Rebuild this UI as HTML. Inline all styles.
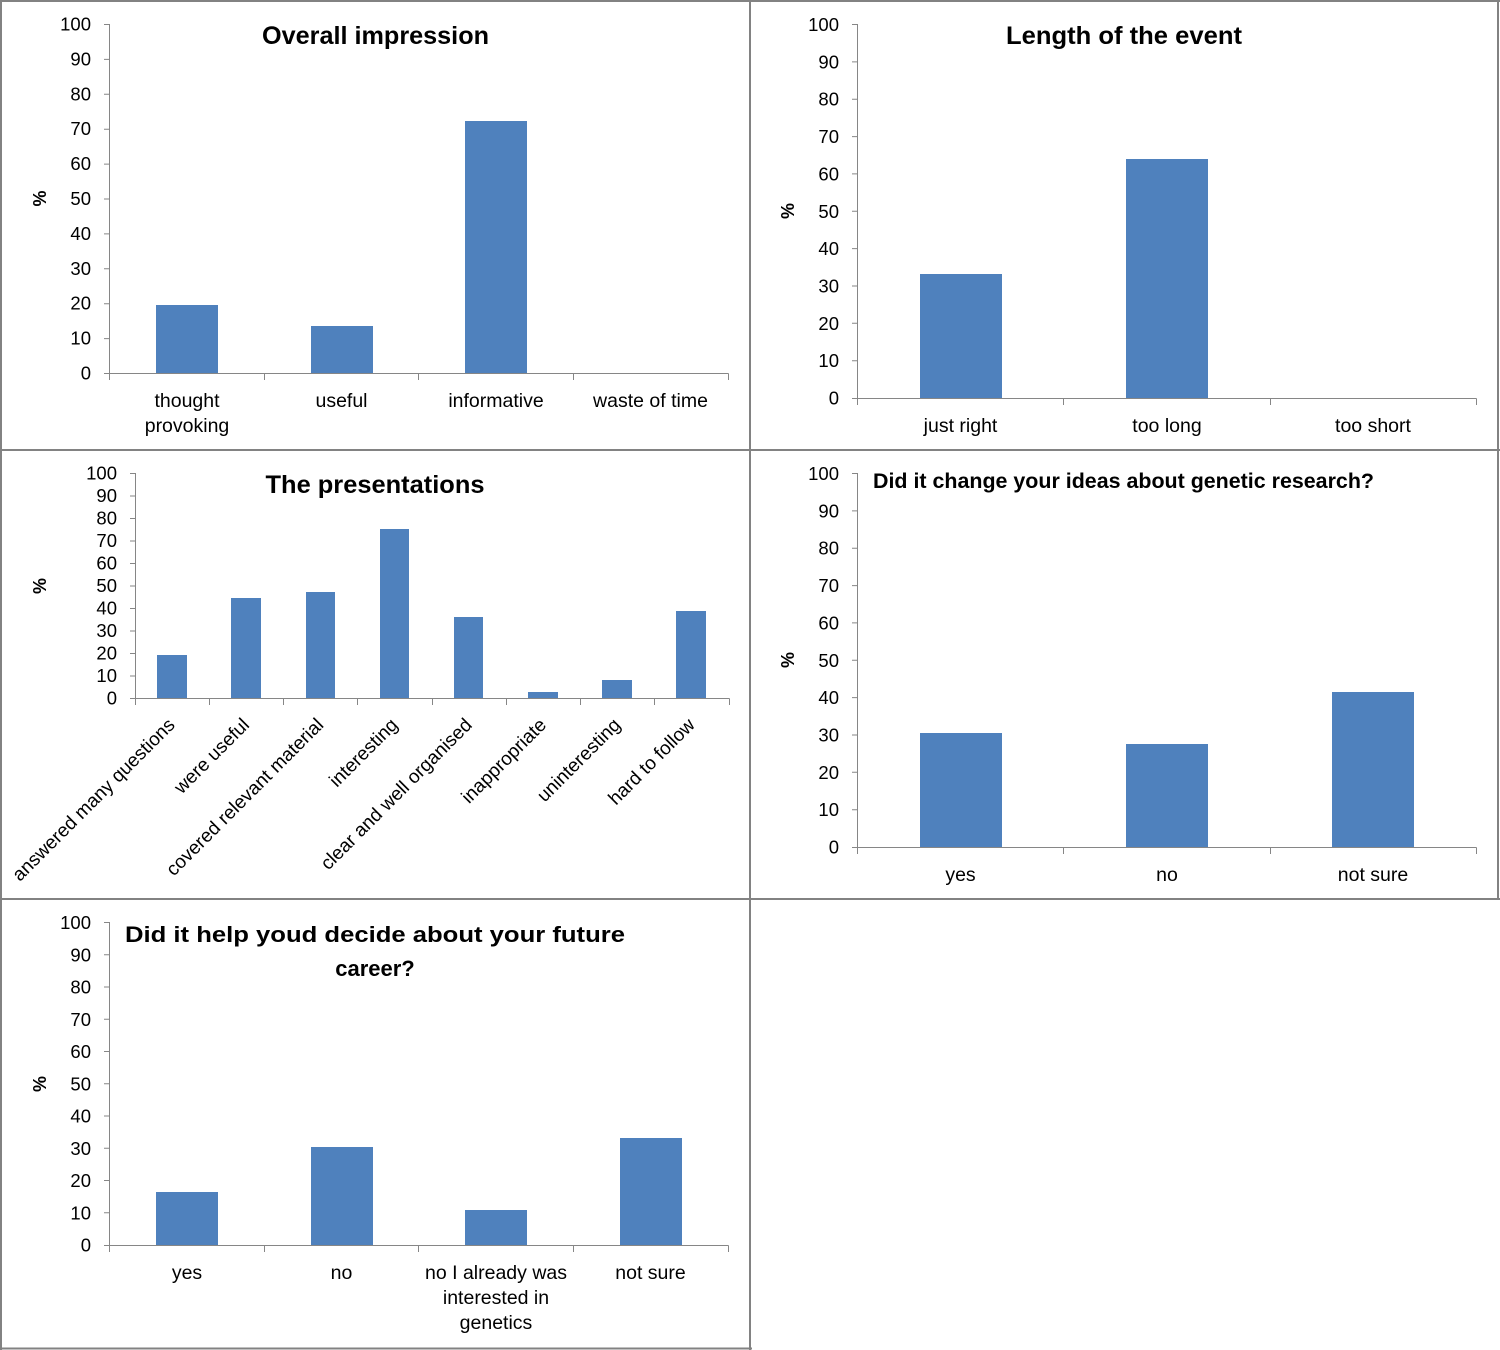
<!DOCTYPE html>
<html><head><meta charset="utf-8"><style>
html,body{margin:0;padding:0;background:#fff;}
svg{display:block;}
text{font-family:"Liberation Sans",Arial,sans-serif;fill:#000;}
.t{font-size:18.5px;text-anchor:end;}
.c{font-size:19.5px;text-anchor:middle;}
.r{font-size:19px;text-anchor:end;}
.h{font-size:25px;font-weight:bold;text-anchor:middle;}
.p{font-size:18px;font-weight:bold;text-anchor:middle;}
.ax{stroke:#868686;stroke-width:1;fill:none;}
.b{fill:#4F81BD;}
.bd{stroke:#828282;stroke-width:2;}
</style></head><body>
<svg width="1500" height="1350" viewBox="0 0 1500 1350" xmlns="http://www.w3.org/2000/svg">
<rect width="1500" height="1350" fill="#fff"/>

<!-- ===== Panel 1: Overall impression ===== -->
<text class="h" x="375.5" y="44" textLength="227" lengthAdjust="spacingAndGlyphs">Overall impression</text>
<text class="p" transform="translate(46,198.5) rotate(-90)">%</text>
<g class="t">
<text x="91" y="379.5">0</text><text x="91" y="344.6">10</text><text x="91" y="309.7">20</text><text x="91" y="274.8">30</text><text x="91" y="239.9">40</text><text x="91" y="205">50</text><text x="91" y="170.1">60</text><text x="91" y="135.2">70</text><text x="91" y="100.3">80</text><text x="91" y="65.4">90</text><text x="91" y="30.5">100</text>
</g>
<rect class="b" x="156" y="305" width="62" height="68"/>
<rect class="b" x="311" y="326" width="62" height="47"/>
<rect class="b" x="465" y="121" width="62" height="252"/>
<path class="ax" d="M109.5 24V373.5M104 24.5H109.5M104 59.4H109.5M104 94.3H109.5M104 129.2H109.5M104 164.1H109.5M104 199H109.5M104 233.9H109.5M104 268.8H109.5M104 303.7H109.5M104 338.6H109.5M104 373.5H109.5"/>
<path class="ax" d="M109.5 373.5H728.5M109.5 373.5V380M264.5 373.5V380M418.5 373.5V380M573.5 373.5V380M728.5 373.5V380"/>
<text class="c" x="187" y="407">thought</text><text class="c" x="187" y="432">provoking</text>
<text class="c" x="341.5" y="407">useful</text>
<text class="c" x="496" y="407">informative</text>
<text class="c" x="650.5" y="407">waste of time</text>

<!-- ===== Panel 2: Length of the event ===== -->
<text class="h" x="1124" y="44" textLength="236" lengthAdjust="spacingAndGlyphs">Length of the event</text>
<text class="p" transform="translate(794,211) rotate(-90)">%</text>
<g class="t">
<text x="839" y="404.5">0</text><text x="839" y="367.2">10</text><text x="839" y="329.8">20</text><text x="839" y="292.5">30</text><text x="839" y="255.1">40</text><text x="839" y="217.8">50</text><text x="839" y="180.4">60</text><text x="839" y="143.1">70</text><text x="839" y="105.7">80</text><text x="839" y="68.4">90</text><text x="839" y="31">100</text>
</g>
<rect class="b" x="920" y="274" width="82" height="124"/>
<rect class="b" x="1126" y="159" width="82" height="239"/>
<path class="ax" d="M857.5 24V398.5M852 24.5H857.5M852 61.9H857.5M852 99.2H857.5M852 136.6H857.5M852 173.9H857.5M852 211.3H857.5M852 248.6H857.5M852 286H857.5M852 323.3H857.5M852 360.7H857.5M852 398.5H857.5"/>
<path class="ax" d="M857.5 398.5H1476.5M857.5 398.5V405M1063.5 398.5V405M1270.5 398.5V405M1476.5 398.5V405"/>
<text class="c" x="960.5" y="432">just right</text>
<text class="c" x="1167" y="432">too long</text>
<text class="c" x="1373" y="432">too short</text>

<!-- ===== Panel 3: The presentations ===== -->
<text class="h" x="375" y="493" textLength="219" lengthAdjust="spacingAndGlyphs">The presentations</text>
<text class="p" transform="translate(46,586) rotate(-90)">%</text>
<g class="t">
<text x="117" y="704.5">0</text><text x="117" y="682">10</text><text x="117" y="659.5">20</text><text x="117" y="637">30</text><text x="117" y="614.5">40</text><text x="117" y="592">50</text><text x="117" y="569.5">60</text><text x="117" y="547">70</text><text x="117" y="524.5">80</text><text x="117" y="502">90</text><text x="117" y="479.5">100</text>
</g>
<rect class="b" x="157" y="655" width="30" height="43"/>
<rect class="b" x="231" y="598" width="30" height="100"/>
<rect class="b" x="306" y="592" width="29" height="106"/>
<rect class="b" x="380" y="529" width="29" height="169"/>
<rect class="b" x="454" y="617" width="29" height="81"/>
<rect class="b" x="528" y="692" width="30" height="6"/>
<rect class="b" x="602" y="680" width="30" height="18"/>
<rect class="b" x="676" y="611" width="30" height="87"/>
<path class="ax" d="M135.5 473V698.5M130 473.5H135.5M130 496H135.5M130 518.5H135.5M130 541H135.5M130 563.5H135.5M130 586H135.5M130 608.5H135.5M130 631H135.5M130 653.5H135.5M130 676H135.5M130 698.5H135.5"/>
<path class="ax" d="M135.5 698.5H729.5M135.5 698.5V705M209.5 698.5V705M283.5 698.5V705M357.5 698.5V705M432.5 698.5V705M506.5 698.5V705M580.5 698.5V705M654.5 698.5V705M729.5 698.5V705"/>
<text class="r" transform="translate(176,726) rotate(-45)">answered many questions</text>
<text class="r" transform="translate(250.4,726) rotate(-45)">were useful</text>
<text class="r" transform="translate(324.6,726) rotate(-45)">covered relevant material</text>
<text class="r" transform="translate(398.9,726) rotate(-45)">interesting</text>
<text class="r" transform="translate(473.1,726) rotate(-45)">clear and well organised</text>
<text class="r" transform="translate(547.4,726) rotate(-45)">inappropriate</text>
<text class="r" transform="translate(621.6,726) rotate(-45)">uninteresting</text>
<text class="r" transform="translate(695.9,726) rotate(-45)">hard to follow</text>

<!-- ===== Panel 4: Did it change your ideas ===== -->
<text class="h" style="font-size:21.5px" x="1123.5" y="488" textLength="501" lengthAdjust="spacingAndGlyphs">Did it change your ideas about genetic research?</text>
<text class="p" transform="translate(794,660) rotate(-90)">%</text>
<g class="t">
<text x="839" y="853.5">0</text><text x="839" y="816.2">10</text><text x="839" y="778.8">20</text><text x="839" y="741.5">30</text><text x="839" y="704.1">40</text><text x="839" y="666.8">50</text><text x="839" y="629.4">60</text><text x="839" y="592.1">70</text><text x="839" y="554.7">80</text><text x="839" y="517.4">90</text><text x="839" y="480">100</text>
</g>
<rect class="b" x="920" y="733" width="82" height="114"/>
<rect class="b" x="1126" y="744" width="82" height="103"/>
<rect class="b" x="1332" y="692" width="82" height="155"/>
<path class="ax" d="M857.5 473V847.5M852 473.5H857.5M852 510.9H857.5M852 548.2H857.5M852 585.6H857.5M852 622.9H857.5M852 660.3H857.5M852 697.6H857.5M852 735H857.5M852 772.3H857.5M852 809.7H857.5M852 847.5H857.5"/>
<path class="ax" d="M857.5 847.5H1476.5M857.5 847.5V854M1063.5 847.5V854M1270.5 847.5V854M1476.5 847.5V854"/>
<text class="c" x="960.5" y="881">yes</text>
<text class="c" x="1167" y="881">no</text>
<text class="c" x="1373" y="881">not sure</text>

<!-- ===== Panel 5: Did it help ===== -->
<text class="h" style="font-size:22px" x="375" y="942" textLength="500" lengthAdjust="spacingAndGlyphs">Did it help youd decide about your future</text>
<text class="h" style="font-size:22px" x="375" y="976">career?</text>
<text class="p" transform="translate(46,1084) rotate(-90)">%</text>
<g class="t">
<text x="91" y="1251.5">0</text><text x="91" y="1219.3">10</text><text x="91" y="1187">20</text><text x="91" y="1154.8">30</text><text x="91" y="1122.5">40</text><text x="91" y="1090.3">50</text><text x="91" y="1058">60</text><text x="91" y="1025.8">70</text><text x="91" y="993.5">80</text><text x="91" y="961.3">90</text><text x="91" y="929">100</text>
</g>
<rect class="b" x="156" y="1192" width="62" height="53"/>
<rect class="b" x="311" y="1147" width="62" height="98"/>
<rect class="b" x="465" y="1210" width="62" height="35"/>
<rect class="b" x="620" y="1138" width="62" height="107"/>
<path class="ax" d="M109.5 922V1245.5M104 922.5H109.5M104 954.8H109.5M104 987H109.5M104 1019.3H109.5M104 1051.5H109.5M104 1083.8H109.5M104 1116H109.5M104 1148.3H109.5M104 1180.5H109.5M104 1212.8H109.5M104 1245.5H109.5"/>
<path class="ax" d="M109.5 1245.5H728.5M109.5 1245.5V1252M264.5 1245.5V1252M418.5 1245.5V1252M573.5 1245.5V1252M728.5 1245.5V1252"/>
<text class="c" x="187" y="1279">yes</text>
<text class="c" x="341.5" y="1279">no</text>
<text class="c" x="496" y="1279">no I already was</text>
<text class="c" x="496" y="1304">interested in</text>
<text class="c" x="496" y="1329">genetics</text>
<text class="c" x="650.5" y="1279">not sure</text>

<!-- ===== Borders ===== -->
<g class="bd">
<line x1="0" y1="1" x2="1500" y2="1"/>
<line x1="0" y1="450" x2="1500" y2="450"/>
<line x1="0" y1="899" x2="1500" y2="899"/>
<line x1="0" y1="1348.5" x2="752" y2="1348.5"/>
<line x1="1" y1="0" x2="1" y2="1350"/>
<line x1="750" y1="0" x2="750" y2="1350"/>
<line x1="1498" y1="0" x2="1498" y2="900"/>
</g>
</svg>
</body></html>
